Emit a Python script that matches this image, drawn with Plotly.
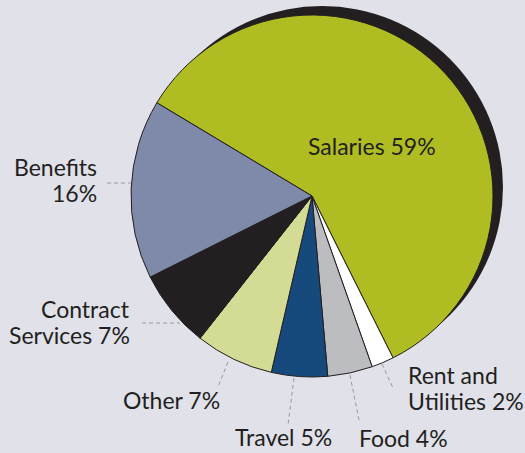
import plotly.graph_objects as go

# ---------------- data ----------------
categories = ["Salaries", "Rent and Utilities", "Food", "Travel", "Other",
              "Contract Services", "Benefits"]
shares = [59, 2, 4, 5, 7, 7, 16]
slice_colors = ["#b0bd22", "#ffffff", "#bcbdc0", "#174a7c", "#d4db94",
                "#231f20", "#7f8aab"]
# number of words placed on the first line of each label (0 = single line)
first_line_words = [0, 2, 0, 0, 0, 1, 1]

# ---------------- layout helpers ----------------
W, H = 525, 453
BG = "#e0e1e9"
INK = "#231f20"
FONT = "Lato"
FS = 23

def px(x):
    return x / W

def py(y):
    return 1 - y / H

# pie geometry (pixels)
CX, CY, R = 312, 196, 181
SHX, SHY = 10, -9  # shadow offset

# label anchors: (x, xanchor, baseline of first line)
label_pos = [
    (372, "center", 154),
    (406, "left", 383),
    (357, "left", 446),
    (233, "left", 445),
    (121, "left", 408),
    (132, "right", 317),
    (99, "right", 175),
]
LINE_GAP = 26

# leader lines (pixels)
leaders = [
    None,
    (382, 364, 393, 388),
    (350, 375, 359, 420),
    (294, 378, 288, 425),
    (228, 362, 218, 387),
    (142, 323, 180, 323),
    (107, 183, 131, 183),
]

fig = go.Figure()

# shadow disc
fig.add_trace(go.Pie(
    values=[1], labels=["shadow"], marker=dict(colors=[INK], line=dict(width=0)),
    textinfo="none", hoverinfo="skip", sort=False, showlegend=False,
    domain=dict(x=[px(CX - R + SHX), px(CX + R + SHX)],
                y=[py(CY + R + SHY), py(CY - R + SHY)]),
))

fig.add_trace(go.Pie(
    labels=categories, values=shares, sort=False, direction="clockwise",
    rotation=-59,
    marker=dict(colors=slice_colors, line=dict(color=INK, width=1)),
    textinfo="none", hoverinfo="label+percent", showlegend=False,
    domain=dict(x=[px(CX - R), px(CX + R)], y=[py(CY + R), py(CY - R)]),
))

annotations = []
for cat, val, nw, (ax, xa, by) in zip(categories, shares, first_line_words, label_pos):
    words = f"{cat} {val}%".split(" ")
    lines = [" ".join(words)] if nw == 0 else [" ".join(words[:nw]), " ".join(words[nw:])]
    for i, line in enumerate(lines):
        annotations.append(dict(
            text=line, x=px(ax), y=py(by + i * LINE_GAP - 8),
            xref="paper", yref="paper", xanchor=xa, yanchor="middle",
            showarrow=False, font=dict(family=FONT, size=FS, color=INK),
        ))

shapes = []
for ld in leaders:
    if ld is None:
        continue
    x0, y0, x1, y1 = ld
    shapes.append(dict(type="line", xref="paper", yref="paper",
                       x0=px(x0), y0=py(y0), x1=px(x1), y1=py(y1),
                       line=dict(color="#9b9b9b", width=1, dash="4px,3px")))

fig.update_layout(
    width=W, height=H, margin=dict(l=0, r=0, t=0, b=0),
    paper_bgcolor=BG, plot_bgcolor=BG,
    annotations=annotations, shapes=shapes,
    font=dict(family=FONT, color=INK),
)

fig.write_html(
    "out.html",
    config={"displayModeBar": False},
    post_script="document.body.style.margin='0';document.body.style.overflow='hidden';",
)
